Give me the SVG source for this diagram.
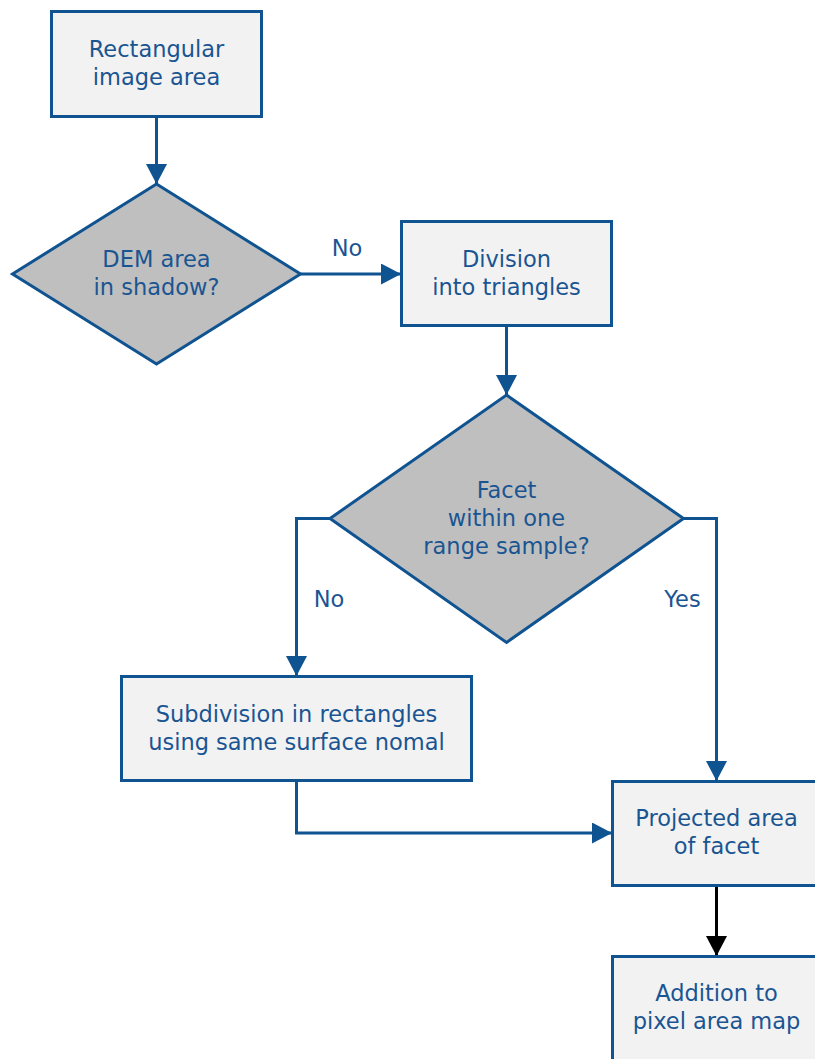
<svg xmlns="http://www.w3.org/2000/svg" width="815" height="1059" viewBox="0 0 815 1059">
<style>
.box{fill:#f2f2f2;stroke:#0f5391;stroke-width:3}
.dia{fill:#bfbfbf;stroke:#0f5391;stroke-width:3}
.t{font-family:"DejaVu Sans",sans-serif;font-size:22.5px;fill:#1a5592;text-anchor:middle}
.lbl{font-family:"DejaVu Sans",sans-serif;font-size:22.5px;fill:#1a5592;text-anchor:middle}
.c{fill:none;stroke:#0f5391;stroke-width:3}
.k{fill:none;stroke:#000;stroke-width:3}
</style>
<defs>
<marker id="ab" markerUnits="userSpaceOnUse" markerWidth="20" markerHeight="22" refX="20" refY="10.5" orient="auto"><path d="M0,0 L20,10.5 L0,21 z" fill="#0f5391"/></marker>
<marker id="ak" markerUnits="userSpaceOnUse" markerWidth="20" markerHeight="22" refX="20" refY="10.5" orient="auto"><path d="M0,0 L20,10.5 L0,21 z" fill="#000"/></marker>
</defs>
<rect width="815" height="1059" fill="#fff"/>
<g id="connectors">
<path class="c" d="M156.5,117 L156.5,184" marker-end="url(#ab)"/>
<path class="c" d="M300.5,274 L401,274" marker-end="url(#ab)"/>
<path class="c" d="M506.5,326 L506.5,395" marker-end="url(#ab)"/>
<path class="c" d="M330,518.5 L296.5,518.5 L296.5,676" marker-end="url(#ab)"/>
<path class="c" d="M683,518.5 L716.5,518.5 L716.5,781" marker-end="url(#ab)"/>
<path class="c" d="M296.5,782 L296.5,833 L612,833" marker-end="url(#ab)"/>
<path class="k" d="M716.5,886 L716.5,956" marker-end="url(#ak)"/>
<text class="lbl" x="347" y="256">No</text>
<text class="lbl" x="329" y="607">No</text>
<text class="lbl" x="682.5" y="607">Yes</text>
</g>
<g id="n1">
<rect class="box" x="51.5" y="11.5" width="210" height="105"/>
<text class="t" x="156.5" y="57">Rectangular</text>
<text class="t" x="156.5" y="85">image area</text>
</g>
<g id="n2">
<path class="dia" d="M156.5,184 L300.5,274 L156.5,364 L12.5,274 z"/>
<text class="t" x="156.5" y="267">DEM area</text>
<text class="t" x="156.5" y="295">in shadow?</text>
</g>
<g id="n3">
<rect class="box" x="401.5" y="221.5" width="210" height="104"/>
<text class="t" x="506.5" y="267">Division</text>
<text class="t" x="506.5" y="295">into triangles</text>
</g>
<g id="n4">
<path class="dia" d="M506.5,395 L683.5,518.5 L506.5,642.5 L330,518.5 z"/>
<text class="t" x="506.5" y="498">Facet</text>
<text class="t" x="506.5" y="526">within one</text>
<text class="t" x="506.5" y="554">range sample?</text>
</g>
<g id="n5">
<rect class="box" x="121.5" y="676.5" width="350" height="104"/>
<text class="t" x="296.5" y="722">Subdivision in rectangles</text>
<text class="t" x="296.5" y="750">using same surface nomal</text>
</g>
<g id="n6">
<rect class="box" x="612.5" y="781.5" width="210" height="104"/>
<text class="t" x="716.5" y="826">Projected area</text>
<text class="t" x="716.5" y="854">of facet</text>
</g>
<g id="n7">
<rect class="box" x="612.5" y="956.5" width="210" height="104"/>
<text class="t" x="716.5" y="1001">Addition to</text>
<text class="t" x="716.5" y="1029">pixel area map</text>
</g>
</svg>
